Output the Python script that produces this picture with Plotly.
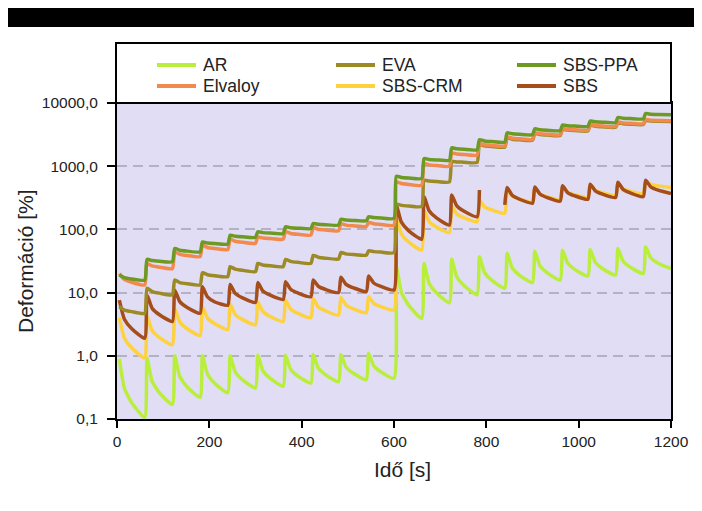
import plotly.graph_objects as go

# ---------------- data ----------------
CYCLE_START = [0, 60, 120, 180, 240, 300, 360, 420, 480, 540,
               600, 660, 720, 780, 840, 900, 960, 1020, 1080, 1140]
OFFSETS = [5, 16, 32, 60]  # peak, two recovery readings, end of cycle (s)

AR_PEAK = [0.9, 0.92, 1.0, 1.0, 1.0, 1.02, 1.02, 1.05, 1.05, 1.1,
           26, 29, 34, 37, 42, 45, 47, 48, 50, 53]
AR_M1 = [0.307, 0.395, 0.469, 0.51, 0.557, 0.58, 0.614, 0.64, 0.664, 0.696,
         10.1, 14.1, 17.7, 20.8, 24.6, 26.7, 29.3, 30.2, 31.6, 35.6]
AR_M2 = [0.18, 0.259, 0.321, 0.364, 0.415, 0.438, 0.477, 0.50, 0.528, 0.553,
         6.27, 9.9, 12.8, 15.6, 18.8, 20.5, 23.1, 23.9, 25.2, 29.2]
AR_END = [0.105, 0.17, 0.22, 0.26, 0.31, 0.33, 0.37, 0.39, 0.42, 0.44,
          3.9, 6.9, 9.2, 11.7, 14.4, 15.8, 18.3, 19, 20, 24]

ELV_PEAK = [20, 29, 44, 56, 70, 76, 92, 107, 123, 129,
            565, 1100, 1620, 2280, 2900, 3400, 3960, 4590, 5000, 5460]
ELV_M1 = [16.2, 26.4, 40.3, 51.8, 64.8, 72.9, 86.3, 100.8, 116.8, 122.9,
          531, 1049, 1559, 2178, 2772, 3273, 3828, 4417, 4848, 5354]
ELV_M2 = [14.6, 25.2, 38.6, 49.9, 62.4, 71.5, 83.6, 97.9, 113.9, 119.9,
          515, 1024, 1529, 2128, 2710, 3211, 3764, 4333, 4773, 5302]
ELV_END = [13.2, 24, 37, 48, 60, 70, 81, 95, 111, 117,
           500, 1000, 1500, 2080, 2650, 3150, 3700, 4250, 4700, 5250]

EVA_PEAK = [6.0, 11.7, 15.8, 20.6, 25.7, 29, 33.6, 38.8, 43, 46,
            250, 600, 1180, 2200, 2800, 3300, 3850, 4450, 4850, 5300]
EVA_M1 = [5.3, 10.4, 14.4, 19.2, 23.5, 27.3, 31.2, 36.3, 41, 44.5,
          240, 582, 1165, 2098, 2677, 3172, 3723, 4282, 4703, 5199]
EVA_M2 = [5.0, 9.8, 13.8, 18.5, 22.5, 26.5, 30.1, 35.1, 40, 43.7,
          235, 573, 1157, 2048, 2618, 3111, 3661, 4200, 4630, 5149]
EVA_END = [4.7, 9.2, 13.2, 17.9, 21.5, 25.7, 29, 34, 39, 43,
           230, 565, 1150, 2000, 2560, 3050, 3600, 4120, 4560, 5100]

CRM_PEAK = [4.0, 4.2, 5.6, 6.0, 6.6, 7.2, 7.6, 8.0, 8.4, 8.6,
            150, 200, 234, 290, 420, 450, 470, 500, 540, 580]
CRM_M1 = [1.92, 2.51, 3.43, 3.95, 4.52, 5.02, 5.51, 5.93, 6.35, 6.75,
          84, 133, 176, 228, 337, 364, 388, 415, 444, 516]
CRM_M2 = [1.33, 1.94, 2.68, 3.2, 3.74, 4.19, 4.69, 5.12, 5.52, 5.98,
          62.8, 109, 152, 203, 301, 328, 352, 379, 402, 488]
CRM_END = [0.92, 1.5, 2.1, 2.6, 3.1, 3.5, 4.0, 4.4, 4.8, 5.3,
           47, 89, 132, 180, 270, 295, 320, 345, 365, 460]

PPA_PEAK = [19, 33.6, 50, 63.5, 81, 92, 110, 124, 145, 158,
            692, 1320, 1950, 2630, 3370, 3900, 4500, 5200, 5900, 6800]
PPA_M1 = [17.2, 32.1, 46.8, 60.9, 77.9, 88.9, 106.4, 120.4, 140.9, 153.9,
          665, 1279, 1883, 2512, 3258, 3773, 4373, 5048, 5748, 6648]
PPA_M2 = [16.4, 31.4, 45.3, 59.7, 76.4, 87.4, 104.7, 118.7, 138.9, 151.9,
          652, 1259, 1851, 2455, 3203, 3711, 4311, 4973, 5673, 6573]
PPA_END = [15.8, 30.8, 44, 58.5, 75, 86, 103, 117, 137, 150,
           640, 1240, 1820, 2400, 3150, 3650, 4250, 4900, 5600, 6500]

SBS_PEAK = [7.6, 9.2, 11, 12.4, 13.5, 14.4, 14.9, 15.8, 17.5, 18.3,
            240, 330, 350, 420, 460, 470, 490, 520, 560, 600]
SBS_M1 = [3.8, 5.68, 7.19, 8.55, 9.72, 10.6, 11.3, 12.6, 13.5, 14.2,
          130, 197, 235, None, 346, 363, 383, 408, 430, 471]
SBS_M2 = [2.69, 4.46, 5.81, 7.1, 8.25, 9.09, 9.86, 11.2, 11.9, 12.5,
          95, 152, 193, None, 300, 318, 339, 361, 377, 417]
SBS_END = [1.9, 3.5, 4.7, 6.3, 7.0, 7.8, 8.6, 10, 10.4, 11,
           70, 117, 158, None, 260, 280, 300, 320, 330, 370]
SBS_RESTART = 245  # value where the SBS record resumes after the gap

TICK_X = [0, 200, 400, 600, 800, 1000, 1200]
TICK_Y = [0.1, 1, 10, 100, 1000, 10000]
TICK_Y_TEXT = ["0,1", "1,0", "10,0", "100,0", "1000,0", "10000,0"]

SERIES = [  # name, colour, arrays (drawing order bottom -> top)
    ("AR", "#b9ef3c", AR_PEAK, AR_M1, AR_M2, AR_END, None),
    ("SBS-CRM", "#fdd23e", CRM_PEAK, CRM_M1, CRM_M2, CRM_END, None),
    ("SBS", "#a54d1b", SBS_PEAK, SBS_M1, SBS_M2, SBS_END, SBS_RESTART),
    ("EVA", "#9c8a25", EVA_PEAK, EVA_M1, EVA_M2, EVA_END, None),
    ("Elvaloy", "#f3894c", ELV_PEAK, ELV_M1, ELV_M2, ELV_END, None),
    ("SBS-PPA", "#6c9a22", PPA_PEAK, PPA_M1, PPA_M2, PPA_END, None),
]
LEGEND_GRID = [("AR", 0, 0), ("Elvaloy", 0, 1), ("EVA", 1, 0),
               ("SBS-CRM", 1, 1), ("SBS-PPA", 2, 0), ("SBS", 2, 1)]


def build(peak, m1, m2, end, restart):
    xs, ys = [], []
    for k, t0 in enumerate(CYCLE_START):
        if k > 0 and end[k - 1] is None:
            xs.append(None); ys.append(None)
            xs.append(t0); ys.append(restart)
        for off, v in zip(OFFSETS, (peak[k], m1[k], m2[k], end[k])):
            if v is None:
                continue
            xs.append(t0 + off); ys.append(v)
    return xs, ys


fig = go.Figure()
colors = {}
for name, col, p, a, b, e, r in SERIES:
    colors[name] = col
    xs, ys = build(p, a, b, e, r)
    fig.add_trace(go.Scatter(x=xs, y=ys, mode="lines", name=name,
                             line=dict(color=col, width=3.5, shape="spline",
                                       smoothing=0.5),
                             connectgaps=False, showlegend=False))

# ---------------- layout ----------------
# the page body has an 8px margin, so the figure is placed at (8, 8)
OFF = 8
PAGE_W, PAGE_H = 702, 511
W, H = PAGE_W - OFF, PAGE_H - OFF
PL, PR, PT, PB = 117, 671, 103, 419          # plot area in page pixels
L, T = PL - OFF, PT - OFF
R, B = PAGE_W - PR, PAGE_H - PB
PW, PH = PR - PL, PB - PT


def px(x):
    return (x - PL) / PW


def py(y):
    return (PB - y) / PH


FONT = "Liberation Sans, Arial, sans-serif"
shapes = [
    dict(type="rect", xref="paper", yref="paper", x0=px(0), x1=px(PAGE_W + 5),
         y0=py(27), y1=py(0), fillcolor="black", line=dict(width=0)),
    dict(type="rect", xref="paper", yref="paper", x0=px(116), x1=px(671),
         y0=py(103), y1=py(43), fillcolor="white",
         line=dict(color="black", width=2)),
]
annotations = []
col_x = [157, 336, 517]
row_y = [65, 86]
for name, c, r in LEGEND_GRID:
    x0 = col_x[c]
    y = row_y[r]
    shapes.append(dict(type="line", xref="paper", yref="paper",
                       x0=px(x0), x1=px(x0 + 39), y0=py(y), y1=py(y),
                       line=dict(color=colors[name], width=4)))
    annotations.append(dict(xref="paper", yref="paper", x=px(x0 + 44), y=py(y),
                            text=name, showarrow=False, xanchor="left",
                            yanchor="middle",
                            font=dict(family=FONT, size=17.5, color="#222")))

annotations.append(dict(xref="paper", yref="paper", x=px(25), y=py(261),
                        text="Deformáció [%]", textangle=-90, showarrow=False,
                        xanchor="center", yanchor="middle",
                        font=dict(family=FONT, size=21, color="#222")))
annotations.append(dict(xref="paper", yref="paper", x=px(402), y=py(469),
                        text="Idő [s]", showarrow=False,
                        xanchor="center", yanchor="middle",
                        font=dict(family=FONT, size=21, color="#222")))

fig.update_layout(
    width=W, height=H,
    margin=dict(l=L, r=R, t=T, b=B, pad=0),
    paper_bgcolor="white", plot_bgcolor="#e0ddf4",
    showlegend=False,
    shapes=shapes, annotations=annotations,
    font=dict(family=FONT, size=15, color="#222"),
)
fig.update_xaxes(range=[0, 1200], tickvals=TICK_X, ticks="outside",
                 ticklen=7, tickwidth=2, tickcolor="black",
                 showline=True, linewidth=2, linecolor="black", mirror=True,
                 showgrid=False, zeroline=False,
                 tickfont=dict(family=FONT, size=15.5, color="#222"))
fig.update_yaxes(type="log", range=[-1, 4], tickvals=TICK_Y,
                 ticktext=TICK_Y_TEXT, ticks="outside", ticklen=8,
                 tickwidth=2, tickcolor="black", ticklabelstandoff=6,
                 showline=True, linewidth=2, linecolor="black", mirror=True,
                 showgrid=True, gridcolor="#b3b1c3", gridwidth=1.5,
                 griddash="10px,6px", zeroline=False,
                 tickfont=dict(family=FONT, size=15.5, color="#222"))

fig.write_html("out.html")
